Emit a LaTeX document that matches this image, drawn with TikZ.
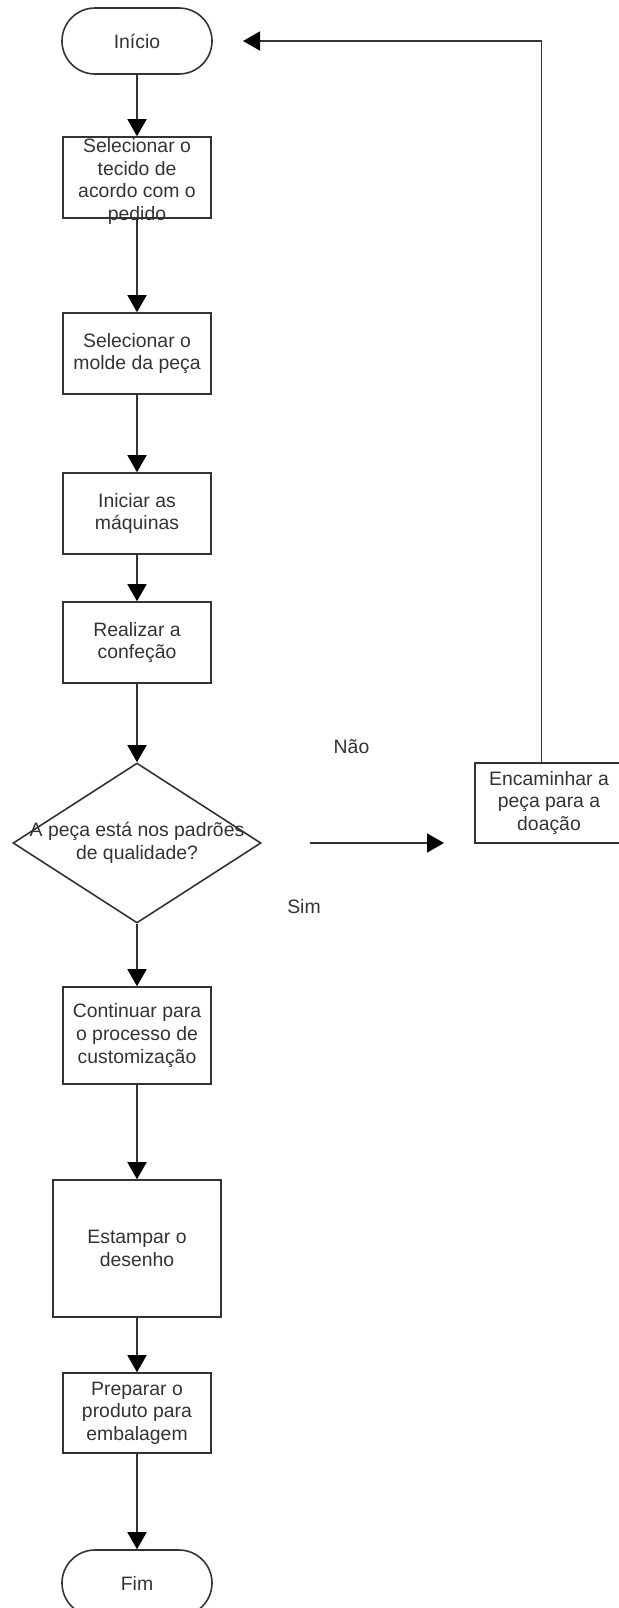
\documentclass[tikz,border=0pt]{standalone}
\usepackage{fontspec}
\setmainfont{Liberation Sans}
\usetikzlibrary{shapes.geometric}
\usetikzlibrary{arrows.meta}
\definecolor{linha}{HTML}{333333}
\tikzset{
 terminal/.style={draw=linha, rectangle, rounded corners=16.5pt, minimum width=75pt, minimum height=33pt, inner sep=0pt},
 passo/.style={draw=linha, rectangle, minimum width=74pt, minimum height=40.5pt, inner sep=0pt, align=center},
 decisao/.style={draw=linha, diamond, minimum width=124pt, minimum height=80pt, inner sep=0pt},
 fluxo/.style={draw=linha, -{Triangle[length=8.5pt,width=9.5pt,color=black]}}
}

\begin{document}
\begin{tikzpicture}[x=0.5pt, y=-0.5pt, line width=0.8pt,
  every node/.style={font=\fontsize{9.7}{11.3}\selectfont, text=linha}]
\useasboundingbox (0,0) rectangle (618,1608);
\node[terminal] (inicio) at (137,41) {Início};
\node[passo, label={[name=tecidotxt, align=center, yshift=-2pt]center:Selecionar o\\tecido de\\acordo com o\\pedido}] (tecido) at (137,177.5) {};
\node[passo] (molde) at (137,353.5) {Selecionar o\\molde da peça};
\node[passo] (maquinas) at (137,513.5) {Iniciar as\\máquinas};
\node[passo] (confeccao) at (137,642.5) {Realizar a\\confeção};
\node[decisao, label={[name=qualtxt, align=center]center:A peça está nos padrões\\de qualidade?}] (qualidade) at (137,843) {};
\node[passo, minimum height=48.5pt] (customiza) at (137,1035.5) {Continuar para\\o processo de\\customização};
\node[passo, minimum width=84pt, minimum height=68.5pt] (estampar) at (137,1248.5) {Estampar o\\desenho};
\node[passo, minimum height=40pt] (embalagem) at (137,1413) {Preparar o\\produto para\\embalagem};
\node[terminal] (fim) at (137,1583) {Fim};
\node[passo, minimum height=40pt] (doacao) at (549,803) {Encaminhar a\\peça para a\\doação};
\node (nao) at (351.5,747) {Não};
\node (sim) at (304,907) {Sim};
\coordinate (topo) at (541.5,41);
\coordinate (volta) at (243,41);
\coordinate (naoini) at (309.5,843);
\coordinate (naofim) at (444,843);
% fluxo principal
\draw[fluxo] (inicio) -- (tecido);
\draw[fluxo] (tecido) -- (molde);
\draw[fluxo] (molde) -- (maquinas);
\draw[fluxo] (maquinas) -- (confeccao);
\draw[fluxo] (confeccao) -- (qualidade);
\draw[fluxo] (qualidade) -- (customiza);
\draw[fluxo] (customiza) -- (estampar);
\draw[fluxo] (estampar) -- (embalagem);
\draw[fluxo] (embalagem) -- (fim);
% ramo de rejeicao
\draw[fluxo] (naoini) -- (naofim);
\draw[fluxo] (doacao.north -| topo) -- (topo) -- (volta);
\end{tikzpicture}
\end{document}
